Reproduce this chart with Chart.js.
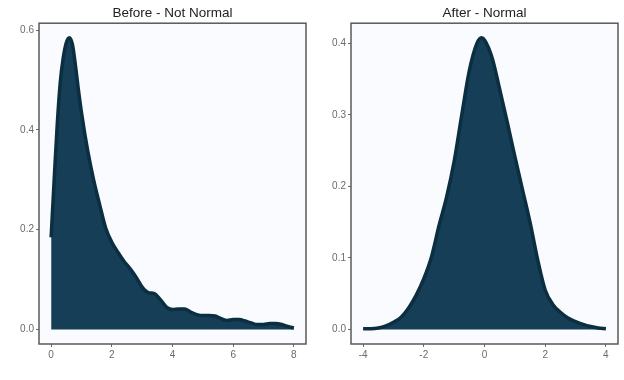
<!DOCTYPE html>
<html>
<head>
<meta charset="utf-8">
<script src="https://cdn.jsdelivr.net/npm/chart.js@4.4.0/dist/chart.umd.min.js"></script>
<style>
  body { margin: 0; background: #fff; }
  #wrap { position: relative; width: 624px; height: 380px; }
  canvas { position: absolute; top: 0; }
  #left { left: 0; }
  #right { left: 312px; }
</style>
</head>
<body>
<div id="wrap">
  <canvas id="left" width="312" height="380"></canvas>
  <canvas id="right" width="312" height="380"></canvas>
</div>
<script>
// Before: skewed density estimate
const beforeX = [0, 0.1, 0.2, 0.3, 0.4, 0.5, 0.6, 0.7, 0.8, 0.9, 1.0, 1.2, 1.4, 1.6, 1.8, 2.0, 2.2, 2.4, 2.6, 2.8, 3.0, 3.2, 3.4, 3.6, 3.8, 4.0, 4.2, 4.4, 4.6, 4.8, 5.0, 5.2, 5.4, 5.6, 5.8, 6.0, 6.2, 6.4, 6.6, 6.8, 7.0, 7.2, 7.4, 7.6, 7.8, 8.0];
const beforeY = [0.185, 0.30, 0.41, 0.495, 0.545, 0.575, 0.585, 0.572, 0.53, 0.48, 0.435, 0.36, 0.30, 0.25, 0.203, 0.175, 0.155, 0.137, 0.122, 0.105, 0.085, 0.074, 0.072, 0.06, 0.045, 0.04, 0.041, 0.041, 0.035, 0.03, 0.028, 0.028, 0.027, 0.022, 0.018, 0.02, 0.02, 0.017, 0.013, 0.01, 0.01, 0.012, 0.012, 0.01, 0.006, 0.003];

// After: roughly normal density estimate
const afterX = [-4, -3.75, -3.5, -3.25, -3, -2.75, -2.5, -2.25, -2, -1.75, -1.5, -1.25, -1, -0.75, -0.5, -0.25, -0.1, 0, 0.25, 0.5, 0.75, 1, 1.25, 1.5, 1.75, 2, 2.25, 2.5, 2.75, 3, 3.25, 3.5, 3.75, 4];
const afterY = [0.001, 0.001, 0.002, 0.005, 0.01, 0.017, 0.03, 0.048, 0.071, 0.101, 0.145, 0.185, 0.235, 0.30, 0.362, 0.40, 0.408, 0.405, 0.38, 0.336, 0.29, 0.242, 0.196, 0.15, 0.098, 0.055, 0.035, 0.024, 0.016, 0.011, 0.007, 0.004, 0.002, 0.001];

const fillColor = "#163f57";
const lineColor = "#0b2e41";
const tickColor = "#6b6b6b";
const frameColor = "#595959";

// panel background and frame around the plot area
const panelPlugin = {
  id: "panel",
  beforeDraw(chart) {
    const { ctx, chartArea: a } = chart;
    ctx.save();
    ctx.fillStyle = "#f9fbfe";
    ctx.fillRect(a.left, a.top, a.right - a.left, a.bottom - a.top);
    ctx.restore();
  },
  afterDraw(chart) {
    const { ctx, chartArea: a } = chart;
    ctx.save();
    ctx.strokeStyle = frameColor;
    ctx.lineWidth = 1.5;
    ctx.strokeRect(a.left, a.top, a.right - a.left, a.bottom - a.top);
    ctx.restore();
  },
};

function makeChart(id, title, xs, ys, xMin, xMax, xStep, yMin, yMax, yStep) {
  const ctx = document.getElementById(id).getContext("2d");
  return new Chart(ctx, {
    type: "line",
    data: {
      datasets: [
        {
          data: xs.map((x, i) => ({ x: x, y: ys[i] })),
          borderColor: lineColor,
          backgroundColor: fillColor,
          borderWidth: 3.5,
          fill: "origin",
          pointRadius: 0,
          cubicInterpolationMode: "monotone",
        },
      ],
    },
    options: {
      responsive: false,
      animation: false,
      layout: { padding: { left: 0, right: 6, top: 0, bottom: 0 } },
      plugins: {
        legend: { display: false },
        tooltip: { enabled: false },
        title: {
          display: true,
          text: title,
          fullSize: false,
          color: "#222",
          font: { family: "Liberation Sans, Arial, sans-serif", size: 13.5, weight: "normal" },
          padding: { top: 5, bottom: 2 },
        },
      },
      scales: {
        x: {
          type: "linear",
          min: xMin,
          max: xMax,
          afterFit: (s) => { s.height = 36; },
          grid: { drawOnChartArea: false, tickLength: 3, color: tickColor },
          border: { display: false },
          ticks: {
            stepSize: xStep,
            includeBounds: false,
            padding: 2,
            color: tickColor,
            font: { family: "Liberation Sans, Arial, sans-serif", size: 10 },
            maxRotation: 0,
          },
        },
        y: {
          min: yMin,
          max: yMax,
          afterFit: (s) => { s.width = 39; },
          grid: { drawOnChartArea: false, tickLength: 3, color: tickColor },
          border: { display: false },
          ticks: {
            stepSize: yStep,
            includeBounds: false,
            padding: 2,
            color: tickColor,
            font: { family: "Liberation Sans, Arial, sans-serif", size: 10 },
            callback: (v) => v.toFixed(1),
          },
        },
      },
    },
    plugins: [panelPlugin],
  });
}

makeChart("left", "Before - Not Normal", beforeX, beforeY, -0.4, 8.4, 2, -0.029, 0.614, 0.2);
makeChart("right", "After - Normal", afterX, afterY, -4.4, 4.4, 2, -0.0204, 0.4284, 0.1);
</script>
</body>
</html>
